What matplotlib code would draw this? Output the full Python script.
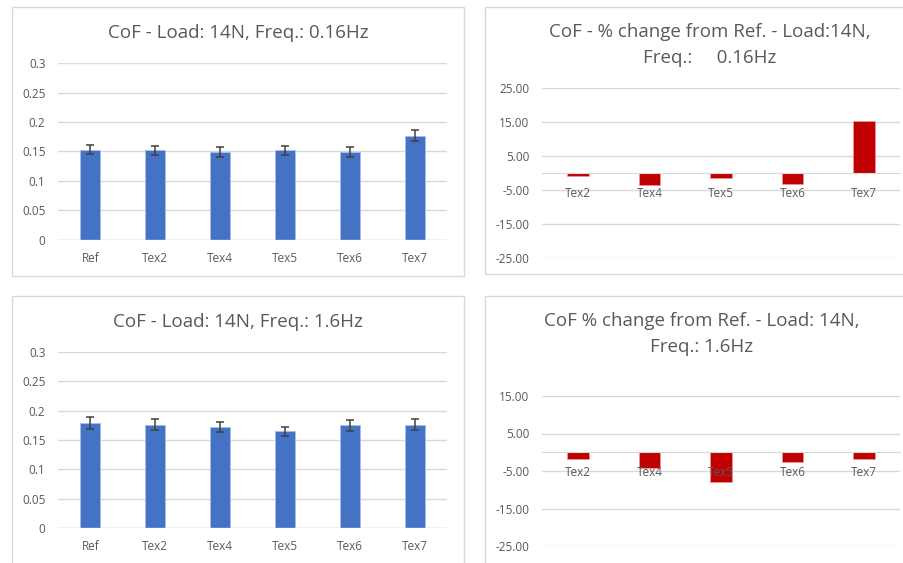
import matplotlib
matplotlib.use("Agg")
import matplotlib.pyplot as plt
from matplotlib.patches import Rectangle
import numpy as np

# data
cats_all = ["Ref", "Tex2", "Tex4", "Tex5", "Tex6", "Tex7"]
cats_tex = ["Tex2", "Tex4", "Tex5", "Tex6", "Tex7"]

cof_016 = [0.153, 0.152, 0.149, 0.152, 0.149, 0.177]
err_016 = [0.008, 0.008, 0.008, 0.008, 0.008, 0.010]
pct_016 = [-0.9, -3.4, -1.4, -3.2, 15.4]

cof_16 = [0.179, 0.176, 0.172, 0.165, 0.175, 0.176]
err_16 = [0.010, 0.009, 0.009, 0.008, 0.009, 0.009]
pct_16 = [-1.7, -4.1, -8.0, -2.7, -1.7]

titles = ["CoF - Load: 14N, Freq.: 0.16Hz",
          "CoF - % change from Ref. - Load:14N,\nFreq.:     0.16Hz",
          "CoF - Load: 14N, Freq.: 1.6Hz",
          "CoF % change from Ref. - Load: 14N,\nFreq.: 1.6Hz"]

BLUE = "#4472C4"
RED = "#C00000"
GRID = "#D9D9D9"
TXT = "#595959"

plt.rcParams['font.family'] = ['Open Sans', 'DejaVu Sans']

W, H = 904, 563
fig = plt.figure(figsize=(W / 100, H / 100), dpi=100)


def fbox(x0, y0, x1, y1):
    # pixel box (top-left origin) -> figure fraction
    return [x0 / W, 1 - y1 / H, (x1 - x0) / W, (y1 - y0) / H]


def panel(x0, y0, x1, y1):
    fig.patches.append(Rectangle((x0 / W, 1 - y1 / H), (x1 - x0) / W, (y1 - y0) / H,
                                 transform=fig.transFigure, fill=False,
                                 edgecolor=GRID, lw=1))


def style(ax):
    for s in ax.spines.values():
        s.set_visible(False)
    ax.grid(axis="y", color=GRID, lw=1)
    ax.set_axisbelow(True)
    ax.tick_params(axis="both", length=0, colors=TXT, labelsize=8.5)
    ax.tick_params(axis="y", pad=9)
    ax.tick_params(axis="x", pad=9)


def cof_chart(box, vals, errs, title, tx, ty):
    ax = fig.add_axes(fbox(*box))
    x = np.arange(len(cats_all))
    ax.bar(x, vals, width=0.31, color=BLUE, edgecolor="#A9BEE8", lw=0.6,
           yerr=errs, ecolor="#404040", capsize=2.6, error_kw=dict(lw=1.1, capthick=1.1))
    ax.set_xlim(-0.5, len(cats_all) - 0.5)
    ax.set_ylim(0, 0.3)
    ax.set_yticks(np.arange(0, 0.31, 0.05))
    ax.set_yticklabels(["0", "0.05", "0.1", "0.15", "0.2", "0.25", "0.3"])
    ax.set_xticks(x)
    ax.set_xticklabels(cats_all)
    style(ax)
    ax.axhline(0, color=GRID, lw=1)
    fig.text(tx / W, 1 - ty / H, title, ha="center", va="center",
             color=TXT, fontsize=13.5)
    return ax


def pct_chart(box, vals, ylim, title, tx, ty):
    ax = fig.add_axes(fbox(*box))
    x = np.arange(len(cats_tex))
    ax.bar(x, vals, width=0.3, color=RED, edgecolor="#E8A0A0", lw=0.4)
    ax.set_xlim(-0.5, len(cats_tex) - 0.5)
    ax.set_ylim(*ylim)
    ticks = np.arange(ylim[0], ylim[1] + 1, 10)
    ax.set_yticks(ticks)
    ax.set_yticklabels([f"{t:.2f}" for t in ticks])
    ax.set_xticks(x)
    ax.set_xticklabels(cats_tex)
    style(ax)
    ax.spines["bottom"].set_visible(True)
    ax.spines["bottom"].set_position(("data", 0))
    ax.spines["bottom"].set_color(GRID)
    ax.tick_params(axis="x", pad=10, labelsize=8.5)
    # category labels sit on top of the bars, as in the original
    ax.xaxis.set_zorder(3)
    fig.text(tx / W, 1 - ty / H, title, ha="center", va="center",
             color=TXT, fontsize=13.5, linespacing=1.55)
    return ax


panel(12, 7, 464, 276)
panel(485, 7, 910, 274)
panel(12, 296, 464, 580)
panel(485, 296, 910, 580)

cof_chart((58, 63, 447, 240), cof_016, err_016, titles[0], 238, 33)
pct_chart((542, 88, 900, 258), pct_016, (-25, 25), titles[1], 710, 45)
cof_chart((58, 352, 447, 528), cof_16, err_16, titles[2], 238, 322)
pct_chart((542, 396, 900, 546), pct_16, (-25, 15), titles[3], 702, 334)

fig.savefig("out.png", dpi=100)
